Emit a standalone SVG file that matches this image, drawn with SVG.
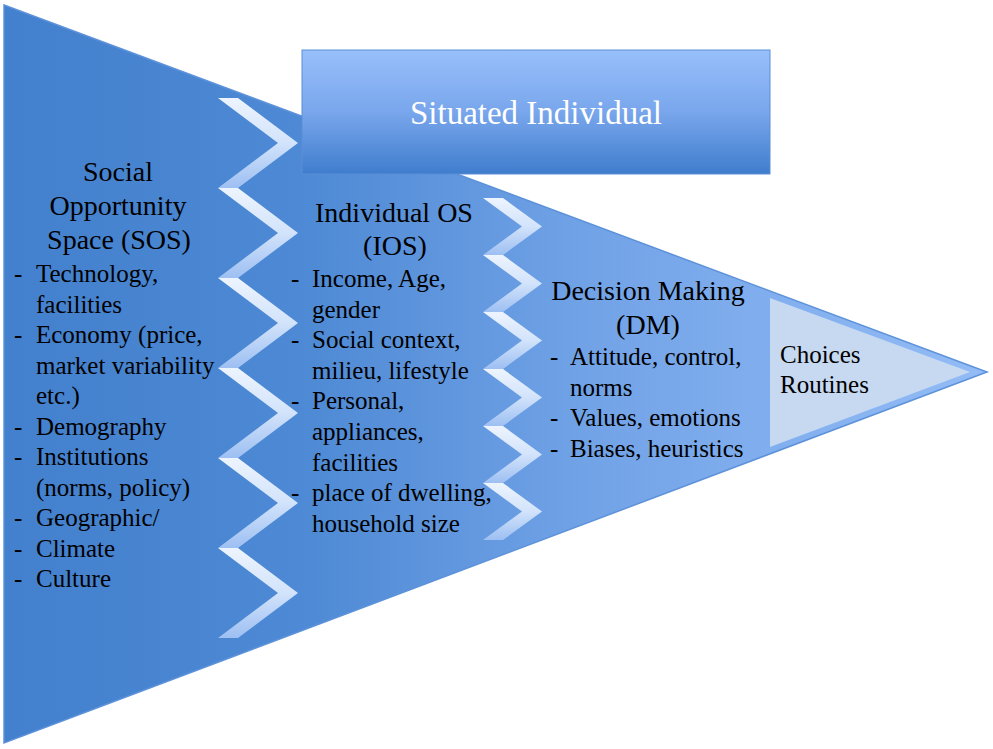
<svg xmlns="http://www.w3.org/2000/svg" width="993" height="749" viewBox="0 0 993 749">
  <defs>
    <linearGradient id="mainGrad" x1="0" y1="0" x2="1" y2="0">
      <stop offset="0" stop-color="#4380cd"/>
      <stop offset="0.3" stop-color="#4d89d4"/>
      <stop offset="0.6" stop-color="#72a3e7"/>
      <stop offset="1" stop-color="#93bcf6"/>
    </linearGradient>
    <linearGradient id="boxGrad" x1="0" y1="0" x2="0" y2="1">
      <stop offset="0" stop-color="#98bffb"/>
      <stop offset="0.5" stop-color="#79a6ec"/>
      <stop offset="1" stop-color="#3f7dcd"/>
    </linearGradient>
    <linearGradient id="chevGrad" x1="0" y1="0" x2="0" y2="1">
      <stop offset="0" stop-color="#edf4fe"/>
      <stop offset="0.5" stop-color="#d2e3fb"/>
      <stop offset="1" stop-color="#9dbff2"/>
    </linearGradient>
    <style>
      .chev { fill: url(#chevGrad); }
      .title { font-family: "Liberation Serif", "Times New Roman", serif; font-size: 28px; fill: #000; text-anchor: middle; }
      .item { font-family: "Liberation Serif", "Times New Roman", serif; font-size: 25px; fill: #000; }
      .box-text { font-family: "Liberation Serif", "Times New Roman", serif; font-size: 33px; fill: #ffffff; text-anchor: middle; }
    </style>
  </defs>

  <g id="main-triangle">
    <polygon points="4,5 987,372 4,743" fill="url(#mainGrad)" stroke="#5d92da" stroke-width="1.5"/>
  </g>

  <g id="connectors">
    <g id="zigzag-1">
      <polygon class="chev" points="218,98 238,98 298,143 238,188 218,188 278,143"/>
      <polygon class="chev" points="218,188 238,188 298,233 238,278 218,278 278,233"/>
      <polygon class="chev" points="218,278 238,278 298,323 238,368 218,368 278,323"/>
      <polygon class="chev" points="218,368 238,368 298,413 238,458 218,458 278,413"/>
      <polygon class="chev" points="218,458 238,458 298,503 238,548 218,548 278,503"/>
      <polygon class="chev" points="218,548 238,548 298,593 238,638 218,638 278,593"/>
    </g>
    <g id="zigzag-2">
      <polygon class="chev" points="483,198 503,198 542,226.5 503,255 483,255 522,226.5"/>
      <polygon class="chev" points="483,255 503,255 542,283.5 503,312 483,312 522,283.5"/>
      <polygon class="chev" points="483,312 503,312 542,340.5 503,369 483,369 522,340.5"/>
      <polygon class="chev" points="483,369 503,369 542,397.5 503,426 483,426 522,397.5"/>
      <polygon class="chev" points="483,426 503,426 542,454.5 503,483 483,483 522,454.5"/>
      <polygon class="chev" points="483,483 503,483 542,511.5 503,540 483,540 522,511.5"/>
    </g>
  </g>

  <g id="situated-individual">
    <rect x="302" y="50" width="468" height="124" fill="url(#boxGrad)" stroke="#5a8fd6" stroke-width="1"/>
    <text class="box-text" x="536" y="124">Situated Individual</text>
  </g>

  <g id="sos">
    <text class="title" x="118" y="181">Social</text>
    <text class="title" x="118" y="215">Opportunity</text>
    <text class="title" x="119" y="249">Space (SOS)</text>
    <g class="item">
      <text x="14" y="282">-</text><text x="36" y="282">Technology,</text>
      <text x="36" y="312.5">facilities</text>
      <text x="14" y="343">-</text><text x="36" y="343">Economy (price,</text>
      <text x="36" y="373.5">market variability</text>
      <text x="36" y="404">etc.)</text>
      <text x="14" y="434.5">-</text><text x="36" y="434.5">Demography</text>
      <text x="14" y="465">-</text><text x="36" y="465">Institutions</text>
      <text x="36" y="495.5">(norms, policy)</text>
      <text x="14" y="526">-</text><text x="36" y="526">Geographic/</text>
      <text x="14" y="556.5">-</text><text x="36" y="556.5">Climate</text>
      <text x="14" y="587">-</text><text x="36" y="587">Culture</text>
    </g>
  </g>

  <g id="ios">
    <text class="title" x="394" y="222">Individual OS</text>
    <text class="title" x="395" y="255">(IOS)</text>
    <g class="item">
      <text x="291" y="287">-</text><text x="312" y="287">Income, Age,</text>
      <text x="312" y="317.6">gender</text>
      <text x="291" y="348.2">-</text><text x="312" y="348.2">Social context,</text>
      <text x="312" y="378.8">milieu, lifestyle</text>
      <text x="291" y="409.4">-</text><text x="312" y="409.4">Personal,</text>
      <text x="312" y="440">appliances,</text>
      <text x="312" y="470.6">facilities</text>
      <text x="291" y="501.2">-</text><text x="312" y="501.2">place of dwelling,</text>
      <text x="312" y="531.8">household size</text>
    </g>
  </g>

  <g id="dm">
    <text class="title" x="648" y="300">Decision Making</text>
    <text class="title" x="648" y="334">(DM)</text>
    <g class="item">
      <text x="550" y="365">-</text><text x="570" y="365">Attitude, control,</text>
      <text x="570" y="395.5">norms</text>
      <text x="550" y="426">-</text><text x="570" y="426">Values, emotions</text>
      <text x="550" y="456.5">-</text><text x="570" y="456.5">Biases, heuristics</text>
    </g>
  </g>

  <g id="choices">
    <polygon points="770,298 970,372 770,447" fill="#c6d9f1"/>
    <g class="item">
      <text x="780" y="363">Choices</text>
      <text x="780" y="393">Routines</text>
    </g>
  </g>
</svg>
